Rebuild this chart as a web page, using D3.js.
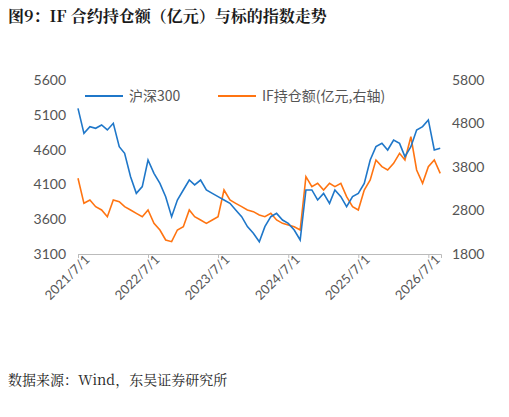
<!DOCTYPE html>
<html><head><meta charset="utf-8">
<script src="https://cdn.jsdelivr.net/npm/d3@7"></script>
<style>body{margin:0;background:#fff;font-family:"Noto Sans CJK SC",sans-serif}</style>
</head><body><div id="chart"></div>
<script>
// monthly readings, 2021-07 .. 2026-09
const csi300 = [5193,4834,4930,4906,4954,4882,4978,4642,4547,4211,3971,4068,4451,4259,4115,3924,3636,3876,4020,4163,4092,4163,4020,3971,3924,3876,3828,3732,3636,3493,3397,3277,3493,3636,3684,3588,3540,3445,3301,4020,4020,3876,3971,3828,4020,3924,3780,3924,3971,4115,4451,4642,4690,4594,4738,4690,4499,4642,4882,4930,5026,4594,4618];
const ifHold = [3540,2965,3041,2888,2812,2658,3041,3003,2888,2812,2735,2658,2812,2505,2352,2122,2084,2352,2428,2812,2658,2582,2505,2582,2658,3271,3041,2965,2888,2812,2773,2697,2658,2735,2582,2505,2467,2428,2352,3578,3348,3425,3271,3425,3348,3425,3118,2888,2812,3271,3501,3961,3808,3731,3884,4114,3961,4497,3731,3425,3808,3961,3654];
const leftTicks = [3100,3600,4100,4600,5100,5600];
const rightTicks = [1800,2800,3800,4800,5800];
const xTicks = ["2021/7/1","2022/7/1","2023/7/1","2024/7/1","2025/7/1","2026/7/1"];
const dates = csi300.map((_, i) => new Date(2021, 6 + i, 1));

const W = 509, H = 417;
const svg = d3.select("#chart").append("svg").attr("width", W).attr("height", H);
const parse = d3.timeParse("%Y/%-m/%-d");

svg.append("text").attr("x", 8).attr("y", 22).attr("font-size", 16).attr("font-weight", "bold")
    .attr("fill", "#1a1a1a").attr("font-family", "'Noto Serif CJK SC','Noto Sans CJK SC'")
    .text("图9：IF 合约持仓额（亿元）与标的指数走势");

const x = d3.scaleTime().domain([parse("2021/7/1"), new Date(2026, 8, 5)]).range([78, 441]);
const yL = d3.scaleLinear().domain([3100, 5600]).range([254, 80]);
const yR = d3.scaleLinear().domain([1800, 5800]).range([254, 80]);

const lAxis = svg.append("g").attr("transform", "translate(66,0)")
    .call(d3.axisLeft(yL).tickValues(leftTicks).tickSize(0).tickPadding(0).tickFormat(d3.format("d")));
const rAxis = svg.append("g").attr("transform", "translate(452,0)")
    .call(d3.axisRight(yR).tickValues(rightTicks).tickSize(0).tickPadding(0).tickFormat(d3.format("d")));
[lAxis, rAxis].forEach(a => {
    a.select(".domain").remove();
    a.selectAll("text").attr("font-size", 14).attr("fill", "#555").attr("font-family", "Lato");
});

const xAxis = svg.append("g").attr("transform", "translate(0,254)")
    .call(d3.axisBottom(x).tickValues(xTicks.map(parse)).tickSize(4).tickFormat(d3.timeFormat("%Y/%-m/%-d")));
xAxis.select(".domain").attr("stroke", "#bbb");
xAxis.selectAll("line").attr("stroke", "#bbb");
xAxis.selectAll("text").attr("font-size", 13).attr("fill", "#555").attr("font-family", "Lato")
    .attr("text-anchor", "end").attr("dx", "4").attr("dy", "6").attr("transform", "rotate(-45)");

svg.append("path").datum(ifHold).attr("fill", "none").attr("stroke", "#ff7411").attr("stroke-width", 1.6)
    .attr("d", d3.line().x((d, i) => x(dates[i])).y(d => yR(d)));
svg.append("path").datum(csi300).attr("fill", "none").attr("stroke", "#1f77c9").attr("stroke-width", 1.6)
    .attr("d", d3.line().x((d, i) => x(dates[i])).y(d => yL(d)));

const leg = [["沪深300", "#1f77c9", 85], ["IF持仓额(亿元,右轴)", "#ff7411", 218]];
leg.forEach(([t, c, lx]) => {
    svg.append("line").attr("x1", lx).attr("x2", lx + 38).attr("y1", 96).attr("y2", 96).attr("stroke", c).attr("stroke-width", 2);
    svg.append("text").attr("x", lx + 44).attr("y", 101).attr("font-size", 14).attr("fill", "#555").text(t);
});

svg.append("text").attr("x", 8).attr("y", 385).attr("font-size", 14).attr("fill", "#222")
    .attr("font-family", "'Noto Serif CJK SC','Noto Sans CJK SC'").text("数据来源：Wind，东吴证券研究所");
</script></body></html>
